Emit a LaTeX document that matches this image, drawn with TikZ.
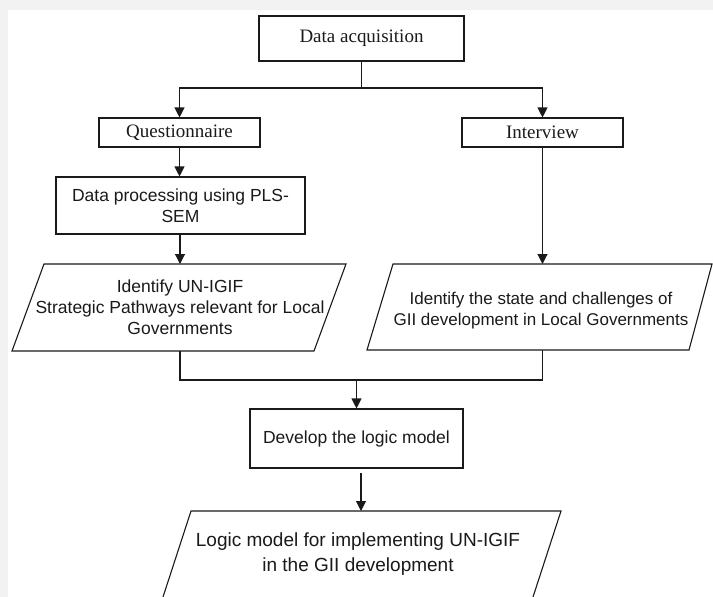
\documentclass[tikz,border=0pt]{standalone}
\usepackage{fontspec}
\setmainfont{Liberation Serif}
\newfontfamily\arialf{Liberation Sans}
\usetikzlibrary{arrows.meta}
\definecolor{bggray}{HTML}{F2F2F2}
\definecolor{ink}{HTML}{1A1A1A}
\begin{document}
\begin{tikzpicture}[x=1pt,y=-1pt,
  line width=1.1pt, draw=ink,
  arr/.style={-{Triangle[width=10pt,length=10pt]}},
  tbox/.style={draw=ink, rectangle, inner sep=0pt, text=ink, font=\fontsize{19}{22}\selectfont},
  sbox/.style={draw=ink, rectangle, inner sep=0pt, align=center, text=ink, font=\arialf\fontsize{17.5}{20.7}\selectfont},
  ptext/.style={inner sep=0pt, align=center, text=ink, font=\arialf\fontsize{17.5}{21}\selectfont},
  pbig/.style={inner sep=0pt, align=center, text=ink, font=\arialf\fontsize{19}{25}\selectfont}
]
\useasboundingbox (0,0) rectangle (713,597);
\clip (0,0) rectangle (713,597);
\fill[bggray] (0,0) rectangle (713,597);
\fill[white] (8,10) rectangle (713,597);

% boxes
\node[tbox, minimum width=205pt, minimum height=45pt] (acq) at (361.5,38.5) {Data acquisition};
\node[tbox, minimum width=161pt, minimum height=29pt] (q) at (179.5,132.5) {Questionnaire};
\node[tbox, minimum width=161pt, minimum height=29pt] (iv) at (542.5,132.5) {Interview};
\node[sbox, minimum width=249pt, minimum height=57pt] (dp) at (180.5,205.5) {Data processing using PLS-\\SEM};
\node[sbox, minimum width=213pt, minimum height=59pt] (dev) at (356.5,438.5) {Develop the logic model};

% parallelograms
\draw[ink] (44,264) -- (346,264) -- (314,351) -- (12,351) -- cycle;
\node[ptext] (p1) at (180,307.5) {Identify UN-IGIF\\Strategic Pathways relevant for Local\\Governments};
\coordinate (p1top) at (180,264);
\coordinate (p1bot) at (180,351);

\draw[ink] (393,264) -- (712,264) -- (689,350) -- (367,350) -- cycle;
\node[ptext, font=\arialf\fontsize{17}{21}\selectfont] (p2) at (541,311) {Identify the state and challenges of\\GII development in Local Governments};
\coordinate (p2top) at (542.5,264);
\coordinate (p2bot) at (542.5,350);

\draw[ink] (191,511) -- (561,511) -- (531.7,601) -- (161.7,601) -- cycle;
\node[pbig] (out) at (358,554) {Logic model for implementing UN-IGIF\\in the GII development};
\coordinate (outtop) at (361,511);

% connectors
\coordinate (j1) at (361.5,88);
\draw[ink] (acq.south) -- (j1);
\draw[ink, arr] (j1) -| (q.north);
\draw[ink, arr] (j1) -| (iv.north);
\draw[ink, arr] (q.south) -- (dp.north -| q.south);
\draw[ink, arr] (dp.south -| p1top) -- (p1top);
\draw[ink, arr] (iv.south) -- (p2top);
\coordinate (j2) at (180,380);
\coordinate (j3) at (542.5,380);
\coordinate (j4) at (356.5,380);
\draw[ink] (p1bot) -- (j2) -- (j3) -- (p2bot);
\draw[ink, arr] (j4) -- (dev.north);
\draw[ink, arr, shorten <=4pt] (dev.south -| outtop) -- (outtop);
\end{tikzpicture}
\end{document}
